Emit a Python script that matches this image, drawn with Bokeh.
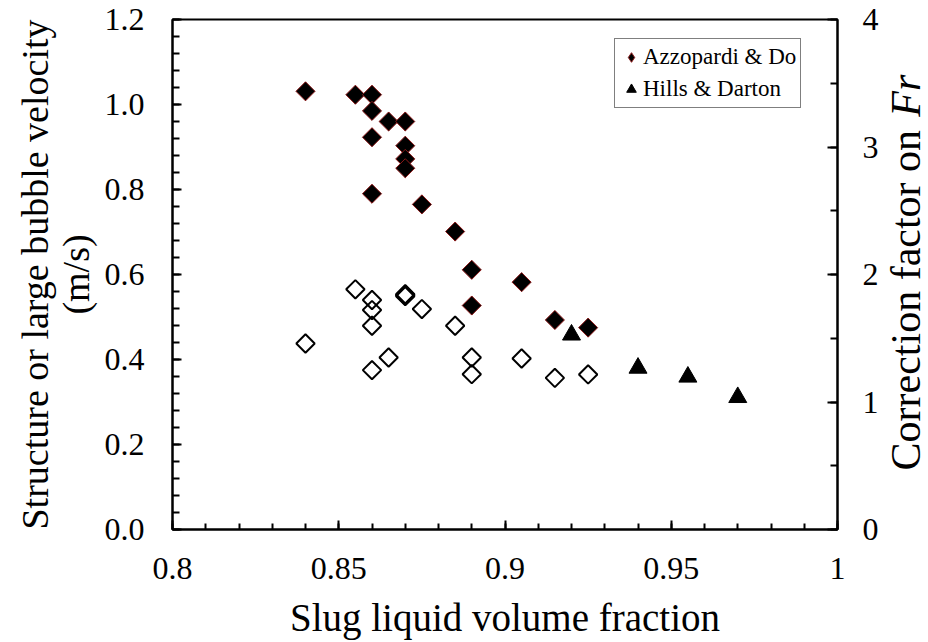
import numpy as np
from bokeh.plotting import figure
from bokeh.layouts import row
from bokeh.models import Range1d, LinearAxis, FixedTicker, Legend, LegendItem
from bokeh.core.properties import value
from bokeh.embed import file_html
from bokeh.resources import INLINE

# ---- data ----
ad_x = [0.84, 0.855, 0.86, 0.86, 0.865, 0.87, 0.86, 0.87, 0.87, 0.87, 0.86, 0.875,
        0.885, 0.89, 0.905, 0.89, 0.915, 0.925]
ad_vel = [1.031, 1.023, 1.023, 0.985, 0.960, 0.960, 0.923, 0.903, 0.872, 0.850, 0.790, 0.765,
          0.701, 0.611, 0.582, 0.527, 0.493, 0.475]

cf_x = [0.84, 0.855, 0.86, 0.86, 0.86, 0.86, 0.865, 0.87, 0.87, 0.87, 0.87, 0.875,
        0.885, 0.89, 0.89, 0.905, 0.915, 0.925]
cf_fr = [1.459, 1.884, 1.800, 1.721, 1.598, 1.250, 1.349, 1.845, 1.840, 1.835, 1.830, 1.729,
         1.598, 1.349, 1.218, 1.341, 1.189, 1.216]

hd_x = [0.92, 0.94, 0.955, 0.97]
hd_vel = [0.458, 0.380, 0.359, 0.311]

x_ticks = [0.8, 0.85, 0.9, 0.95, 1.0]
x_tick_labels = ["0.8", "0.85", "0.9", "0.95", "1"]
y_ticks = [0.0, 0.2, 0.4, 0.6, 0.8, 1.0, 1.2]
y_tick_labels = ["0.0", "0.2", "0.4", "0.6", "0.8", "1.0", "1.2"]
y2_ticks = [0, 1, 2, 3, 4]
y2_tick_labels = ["0", "1", "2", "3", "4"]

x_title = "Slug liquid volume fraction"
y_title = "Structure or large bubble velocity\n(m/s)"
y2_title = "Correction factor on"
y2_title_italic = "Fr"

FONT = "Liberation Serif"
TOP, FH, BOT = 19, 510, 113
RB = 42            # right border of the main figure
W2 = 928 - (172 + 665 + RB)   # width of the side figure holding the right title

p = figure(output_backend="svg", toolbar_location=None,
           frame_width=665, frame_height=FH,
           min_border_left=172, min_border_right=RB, min_border_top=TOP, min_border_bottom=BOT,
           x_range=Range1d(0.8, 1.0), y_range=Range1d(0.0, 1.2),
           x_axis_location=None, y_axis_location=None)
p.extra_y_ranges = {"right": Range1d(0.0, 4.0)}
p.grid.visible = False
p.outline_line_color = "black"
p.outline_line_width = 2
p.background_fill_color = "white"
p.border_fill_color = "white"


def style_axis(ax, labels_list, ticks_list, minor, tick_in, minor_in, standoff):
    ax.ticker = FixedTicker(ticks=ticks_list, minor_ticks=minor)
    ax.major_label_overrides = {t: l for t, l in zip(ticks_list, labels_list)}
    ax.axis_line_color = "black"
    ax.axis_line_width = 2
    ax.major_tick_line_width = 2
    ax.minor_tick_line_width = 2
    ax.major_tick_in = tick_in
    ax.major_tick_out = 0
    ax.minor_tick_in = minor_in
    ax.minor_tick_out = 0
    ax.major_label_text_font = FONT
    ax.major_label_text_font_size = "32px"
    ax.major_label_text_color = "black"
    ax.major_label_standoff = standoff
    ax.axis_label_text_font = FONT
    ax.axis_label_text_font_style = "normal"
    ax.axis_label_text_color = "black"


xax = LinearAxis(axis_label=x_title)
style_axis(xax, x_tick_labels, x_ticks, list(np.round(np.arange(0.8, 1.0001, 0.01), 3)), 9, 6, 28)
xax.axis_label_text_font_size = "39px"
xax.axis_label_standoff = 14
p.add_layout(xax, "below")

yax = LinearAxis(axis_label=y_title)
style_axis(yax, y_tick_labels, y_ticks, list(np.round(np.arange(0, 1.2001, 0.04), 3)), 9, 7, 28)
yax.axis_label_text_font_size = "38px"
yax.axis_label_text_line_height = 0.97
yax.axis_label_standoff = 5
p.add_layout(yax, "left")

y2ax = LinearAxis(y_range_name="right", axis_label="")
style_axis(y2ax, y2_tick_labels, y2_ticks, list(np.arange(0, 4.001, 0.5)), 10, 7, 25)
p.add_layout(y2ax, "right")

# diamond shape underneath (hidden) used as the legend swatch
lg_ad = p.scatter(ad_x, ad_vel, marker="diamond", size=18,
                  fill_color="black", line_color="#8B1A1A", line_width=1)
r_cf = p.scatter(cf_x, cf_fr, y_range_name="right", marker="square", angle=np.pi / 4, size=13,
                 fill_alpha=0, line_color="black", line_width=2)
r_ad = p.scatter(ad_x, ad_vel, marker="square", angle=np.pi / 4, size=13.5,
                 fill_color="black", line_color="#8B1A1A", line_width=1)
r_hd = p.scatter(hd_x, hd_vel, marker="triangle", size=18,
                 fill_color="black", line_color="black", line_width=1)

legend = Legend(items=[LegendItem(label="Azzopardi & Do", renderers=[lg_ad]),
                       LegendItem(label="Hills & Darton", renderers=[r_hd])],
                location=(442, 421))
legend.label_text_font = FONT
legend.label_text_font_size = "23px"
legend.label_text_color = "black"
legend.glyph_width = 24
legend.glyph_height = 28
legend.label_standoff = 0
legend.padding = 4
legend.spacing = 4
legend.margin = 0
legend.border_line_color = "black"
legend.border_line_width = 1
legend.background_fill_color = "white"
legend.background_fill_alpha = 1
p.add_layout(legend, "center")

# right-hand axis title (with italic "Fr") in a narrow side figure whose frame
# lines up with the main frame, sharing the left y scale
p2 = figure(output_backend="svg", toolbar_location=None,
            frame_width=W2, frame_height=FH,
            min_border_left=0, min_border_right=0, min_border_top=TOP, min_border_bottom=BOT,
            x_range=Range1d(0, W2), y_range=p.y_range,
            x_axis_location=None, y_axis_location=None)
p2.grid.visible = False
p2.outline_line_color = None
p2.background_fill_color = "white"
p2.border_fill_color = "white"
p2.text(x=[W2 / 2], y=[0.139], text=[y2_title], angle=np.pi / 2,
        text_align="left", text_baseline="middle",
        text_font=value(FONT), text_font_size="42px", text_color="black")
p2.text(x=[W2 / 2], y=[1.070], text=[y2_title_italic], angle=np.pi / 2,
        text_align="right", text_baseline="middle",
        text_font=value(FONT), text_font_size="42px", text_font_style="italic",
        text_color="black")

layout = row(p, p2, spacing=0)
open("out.html", "w").write(file_html(layout, INLINE))
